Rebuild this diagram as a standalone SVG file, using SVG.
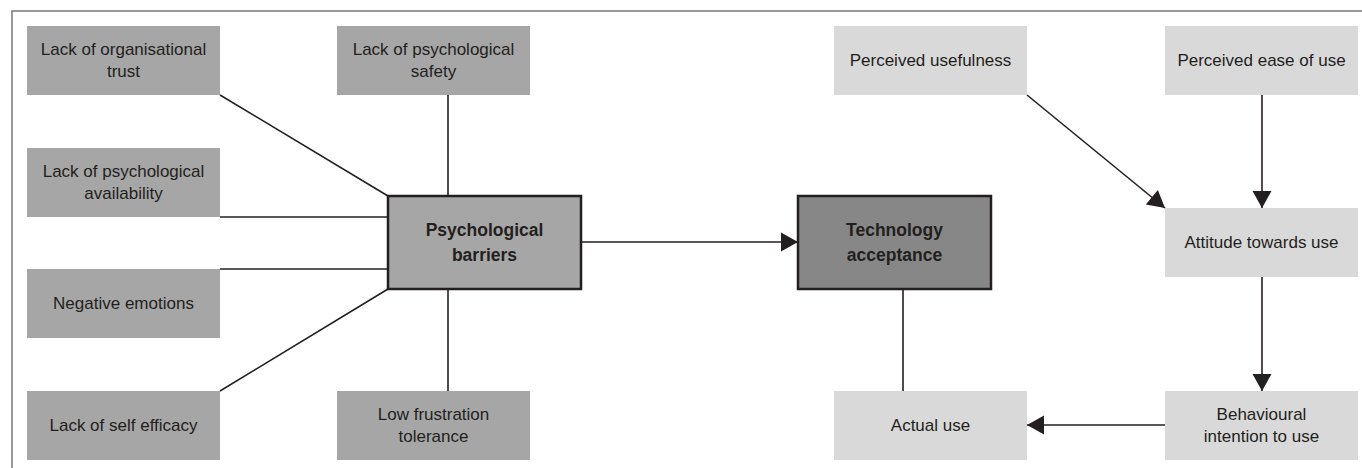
<svg xmlns="http://www.w3.org/2000/svg" width="1362" height="468" viewBox="0 0 1362 468">
<defs>
<style>
.t{font-family:"Liberation Sans",Arial,sans-serif;font-size:17px;fill:#231f20;text-anchor:middle}
.b{font-family:"Liberation Sans",Arial,sans-serif;font-size:17.5px;font-weight:bold;fill:#231f20;text-anchor:middle}
.mid{fill:#a6a6a6}
.light{fill:#d9d9d9}
.c{stroke:#231f20;stroke-width:1.6;fill:none}
</style>
<marker id="ah" markerUnits="userSpaceOnUse" markerWidth="20" markerHeight="20" viewBox="0 0 18 20" refX="17" refY="10" orient="auto">
<path d="M0,0.5 L17,10 L0,19.5 Z" fill="#231f20"/>
</marker>
</defs>
<rect x="0" y="0" width="1362" height="468" fill="#fff"/>
<rect x="12" y="11" width="1360" height="470" fill="none" stroke="#808080" stroke-width="1.6"/>

<g id="connectors">
<line class="c" x1="220" y1="95" x2="388" y2="196"/>
<line class="c" x1="220" y1="217" x2="388" y2="217"/>
<line class="c" x1="220" y1="269" x2="388" y2="269"/>
<line class="c" x1="220" y1="391" x2="388" y2="289"/>
<line class="c" x1="448" y1="95" x2="448" y2="196"/>
<line class="c" x1="448" y1="289" x2="448" y2="391"/>
<line class="c" x1="581" y1="242" x2="798" y2="242" marker-end="url(#ah)"/>
<line class="c" x1="903" y1="289" x2="903" y2="391"/>
<line class="c" x1="1027" y1="95" x2="1165" y2="208" marker-end="url(#ah)"/>
<line class="c" x1="1262" y1="95" x2="1262" y2="208" marker-end="url(#ah)"/>
<line class="c" x1="1262" y1="277" x2="1262" y2="391" marker-end="url(#ah)"/>
<line class="c" x1="1165" y1="425" x2="1027" y2="425" marker-end="url(#ah)"/>
</g>

<g id="trust"><rect class="mid" x="27" y="26" width="193" height="69"/>
<text class="t" x="123.5" y="55">Lack of organisational</text><text class="t" x="123.5" y="77">trust</text></g>
<g id="availability"><rect class="mid" x="27" y="148" width="193" height="69"/>
<text class="t" x="123.5" y="177">Lack of psychological</text><text class="t" x="123.5" y="199">availability</text></g>
<g id="emotions"><rect class="mid" x="27" y="269" width="193" height="69"/>
<text class="t" x="123.5" y="309">Negative emotions</text></g>
<g id="efficacy"><rect class="mid" x="27" y="391" width="193" height="69"/>
<text class="t" x="123.5" y="431">Lack of self efficacy</text></g>
<g id="safety"><rect class="mid" x="337" y="26" width="193" height="69"/>
<text class="t" x="433.5" y="55">Lack of psychological</text><text class="t" x="433.5" y="77">safety</text></g>
<g id="frustration"><rect class="mid" x="337" y="391" width="193" height="69"/>
<text class="t" x="433.5" y="420">Low frustration</text><text class="t" x="433.5" y="442">tolerance</text></g>

<g id="barriers"><rect x="388" y="196" width="193" height="93" fill="#a6a6a6" stroke="#231f20" stroke-width="2.5"/>
<text class="b" x="484.5" y="236">Psychological</text><text class="b" x="484.5" y="261">barriers</text></g>
<g id="acceptance"><rect x="798" y="196" width="193" height="93" fill="#878787" stroke="#231f20" stroke-width="2.5"/>
<text class="b" x="894.5" y="236">Technology</text><text class="b" x="894.5" y="261">acceptance</text></g>

<g id="usefulness"><rect class="light" x="834" y="26" width="193" height="69"/>
<text class="t" x="930.5" y="66">Perceived usefulness</text></g>
<g id="ease"><rect class="light" x="1165" y="26" width="193" height="69"/>
<text class="t" x="1261.5" y="66">Perceived ease of use</text></g>
<g id="attitude"><rect class="light" x="1165" y="208" width="193" height="69"/>
<text class="t" x="1261.5" y="248">Attitude towards use</text></g>
<g id="intention"><rect class="light" x="1165" y="391" width="193" height="69"/>
<text class="t" x="1261.5" y="420">Behavioural</text><text class="t" x="1261.5" y="442">intention to use</text></g>
<g id="actual"><rect class="light" x="834" y="391" width="193" height="69"/>
<text class="t" x="930.5" y="431">Actual use</text></g>
</svg>
